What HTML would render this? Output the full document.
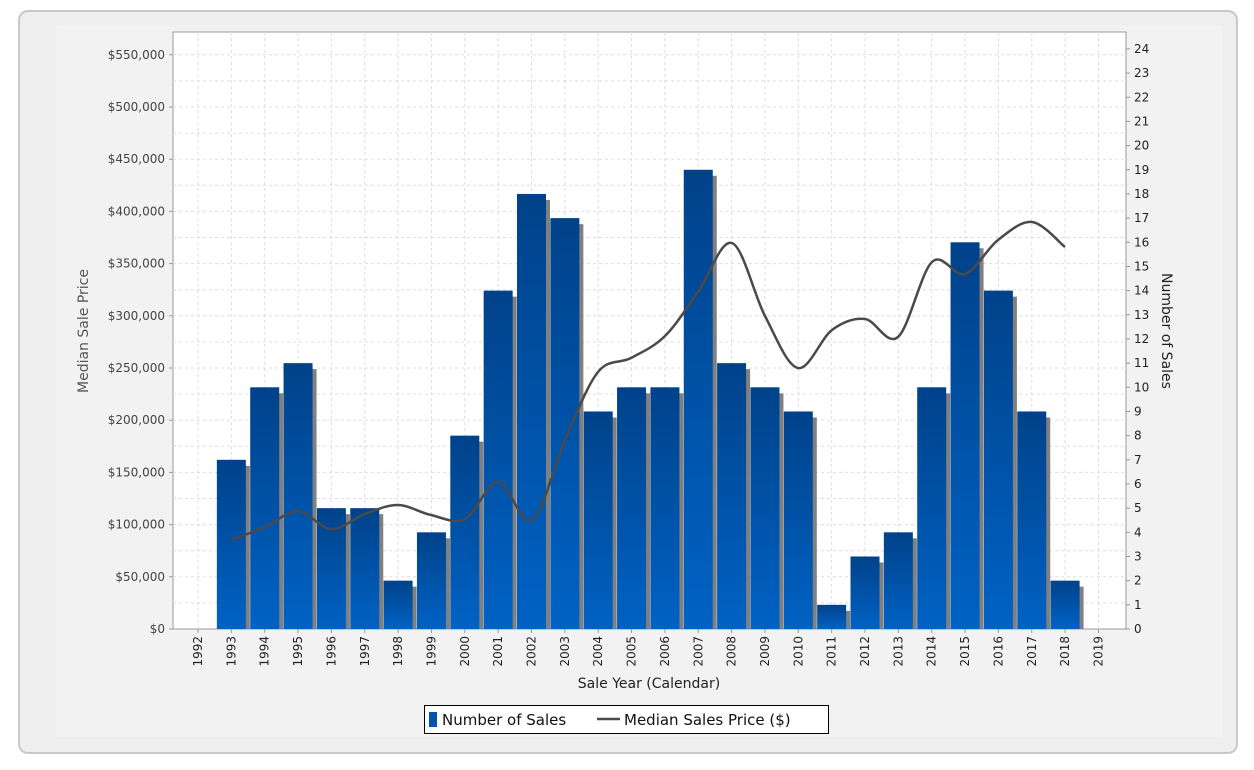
<!DOCTYPE html>
<html><head><meta charset="utf-8"><style>
body{margin:0;background:#fff;width:1254px;height:770px;overflow:hidden;font-family:"Liberation Sans","DejaVu Sans",sans-serif}
.card{position:absolute;left:18px;top:10px;width:1216px;height:740px;border:2px solid #c8c8c8;border-radius:10px;background:#eeeeee}
.panel{position:absolute;left:57px;top:25px;width:1165px;height:712px;background:#f2f2f2}
svg{position:absolute;left:0;top:0}
</style></head><body>
<div class="card"></div><div class="panel"></div>
<svg id="s" width="1254" height="770" font-family="DejaVu Sans, Liberation Sans, sans-serif">
<defs><linearGradient id="g" x1="0" y1="0" x2="0" y2="1"><stop offset="0" stop-color="#00428a"/><stop offset="1" stop-color="#0062c4"/></linearGradient></defs>
<rect x="173" y="32" width="953" height="597" fill="#fff" stroke="#999"/>
</svg>
<script>
const s=document.getElementById('s');let h='';
const X0=173,X1=1126,Y0=629;
const cx=i=>198+i*33.35;
for(let k=1;k<=23;k++){const y=Y0-k*26.1;if(y>32)h+=`<line x1="${X0}" x2="${X1}" y1="${y}" y2="${y}" stroke="#ddd" stroke-dasharray="3,3"/>`;}
for(let i=0;i<28;i++)h+=`<line x1="${cx(i)}" x2="${cx(i)}" y1="32" y2="${Y0}" stroke="#ddd" stroke-dasharray="3,3"/>`;
for(let k=0;k<=11;k++){const y=Y0-k*52.2;h+=`<line x1="169" x2="173" y1="${y}" y2="${y}" stroke="#999"/><text x="165" y="${y+4}" font-size="12" fill="#444" text-anchor="end">$${k==0?'0':(k*50).toString().replace(/(\d)(\d{3})$/,'$1,$2')+',000'}</text>`;}
for(let k=0;k<=24;k++){const y=Y0-k*24.17;h+=`<line x1="1126" x2="1130" y1="${y}" y2="${y}" stroke="#999"/><text x="1134" y="${y+4}" font-size="12" fill="#222">${k}</text>`;}
const n=[0,7,10,11,5,5,2,4,8,14,18,17,9,10,10,19,11,10,9,1,3,4,10,16,14,9,2,0];
n.forEach((v,i)=>{if(!v)return;const x=cx(i)-14.5,y=Y0-v*24.17;
h+=`<rect x="${x+4}" y="${y+6}" width="29" height="${Y0-y-6}" fill="#808080"/><rect x="${x}" y="${y}" width="29" height="${Y0-y}" fill="url(#g)"/>`;});
for(let i=0;i<28;i++){h+=`<line x1="${cx(i)}" x2="${cx(i)}" y1="${Y0}" y2="${Y0+4}" stroke="#999"/><text transform="translate(${cx(i)+4},636) rotate(-90)" font-size="12" fill="#222" text-anchor="end">${1992+i}</text>`;}
const p=[[231,540],[265,527],[298,511],[331,529],[365,514],[398,505],[431,515],[465,519],[498,482],[532,520],[565,440],[598,372],[631,358],[665,336],[698,292],[732,243],[765,316],[798,368],[832,330],[865,319],[898,337],[932,262],[965,274],[998,240],[1032,222],[1065,247]];
let d=`M${p[0]}`;
for(let i=0;i<p.length-1;i++){const a=p[Math.max(0,i-1)],b=p[i],c=p[i+1],e=p[Math.min(p.length-1,i+2)];
d+=` C${b[0]+(c[0]-a[0])/6},${b[1]+(c[1]-a[1])/6} ${c[0]-(e[0]-b[0])/6},${c[1]-(e[1]-b[1])/6} ${c[0]},${c[1]}`;}
h+=`<path d="${d}" fill="none" stroke="#4a4a4a" stroke-width="2.5"/>`;
h+=`<text transform="translate(88,331) rotate(-90)" font-size="14" fill="#555" text-anchor="middle">Median Sale Price</text>`;
h+=`<text transform="translate(1162,331) rotate(90)" font-size="14" fill="#222" text-anchor="middle">Number of Sales</text>`;
h+=`<text x="649" y="688" font-size="14" fill="#222" text-anchor="middle">Sale Year (Calendar)</text>`;
h+=`<rect x="424.5" y="705.5" width="404" height="28" fill="#fff" stroke="#000"/><rect x="429" y="712" width="8" height="15" fill="#0055aa"/>
<text x="442" y="725" font-size="15" fill="#111">Number of Sales</text><line x1="597" x2="620" y1="719" y2="719" stroke="#4a4a4a" stroke-width="2.5"/>
<text x="624" y="725" font-size="15" fill="#111">Median Sales Price ($)</text>`;
s.insertAdjacentHTML('beforeend',h);
</script>
</body></html>
